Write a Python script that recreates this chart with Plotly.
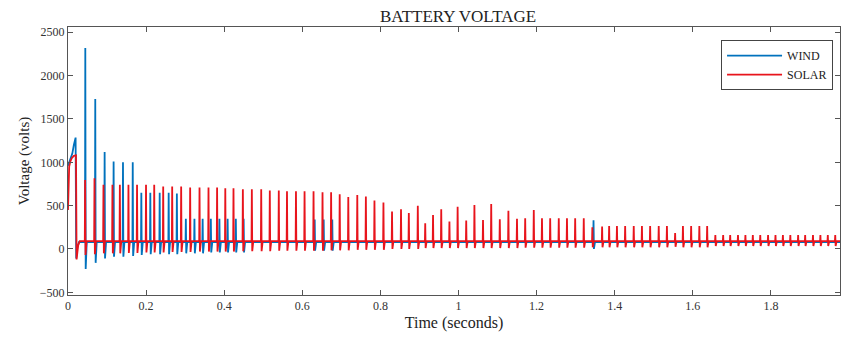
import plotly.graph_objects as go

# ---------------- data ----------------
# start-up transient (time s, volts)
solar_start_t = [0.0, 0.001, 0.003, 0.006, 0.010, 0.015, 0.019, 0.0205, 0.022, 0.026, 0.030]
solar_start_v = [450, 820, 950, 1010, 1050, 1075, 1085, 1080, -120, 40, 90]
wind_start_t = [0.0, 0.003, 0.007, 0.011, 0.015, 0.018, 0.0195, 0.021, 0.024, 0.028]
wind_start_v = [960, 1000, 1040, 1100, 1200, 1270, 1285, -110, 20, 80]

# spike instants, peak values and undershoot values
solar_t = [0.043, 0.067, 0.090, 0.113, 0.132, 0.154, 0.176, 0.199, 0.220,
           0.243, 0.266, 0.289, 0.312, 0.336, 0.359, 0.381, 0.402, 0.423,
           0.447, 0.470, 0.494, 0.516, 0.539, 0.560, 0.583, 0.605,
           0.628, 0.651, 0.673, 0.695, 0.717, 0.740, 0.762, 0.784,
           0.807, 0.829, 0.852, 0.872, 0.895, 0.914, 0.934, 0.955, 0.976,
           0.997, 1.019, 1.040, 1.062, 1.083, 1.105, 1.127, 1.149,
           1.170, 1.192, 1.213, 1.234, 1.256, 1.277, 1.298, 1.320,
           1.342, 1.367, 1.385, 1.405, 1.426, 1.448, 1.469, 1.490,
           1.512, 1.533, 1.554, 1.574, 1.595, 1.616, 1.636,
           1.657, 1.677, 1.695, 1.715, 1.734, 1.753, 1.772, 1.792, 1.811,
           1.830, 1.849, 1.869, 1.887, 1.907, 1.926, 1.945, 1.964]
solar_peak = [795, 815, 740, 740, 740, 740, 740, 740, 740,
              720, 720, 720, 710, 710, 710, 710, 700, 700,
              690, 690, 690, 675, 675, 665, 665, 665,
              665, 655, 655, 630, 600, 623, 604, 560,
              535, 431, 458, 415, 500, 296, 392, 458, 318,
              488, 327, 508, 335, 519, 342, 440, 348,
              354, 450, 354, 354, 354, 354, 354, 354,
              250, 260, 265, 265, 265, 265, 265, 265,
              265, 265, 185, 265, 265, 265, 265,
              160, 160, 160, 160, 160, 160, 160, 160, 160,
              160, 160, 160, 160, 160, 160, 160, 160]
solar_dip = [-70, -60, -50, -50, -50, -45, -45, -40, -40,
             -40, -35, -35, -35, -30, -30, -30, -30, -30,
             -25, -25, -25, -25, -20, -20, -20, -20,
             -20, -20, -15, -15, -15, -10, -10, -10,
             -10, 0, 0, 0, 0, 10, 10, 10, 10,
             10, 10, 10, 10, 10, 10, 10, 10,
             15, 15, 15, 15, 15, 15, 15, 15,
             20, 20, 20, 20, 20, 20, 20, 20,
             20, 20, 25, 20, 20, 20, 20,
             35, 35, 35, 35, 35, 35, 35, 35, 35,
             35, 35, 35, 35, 35, 35, 35, 35]
solar_base = 90

wind_t = [0.0435, 0.069, 0.093, 0.116, 0.140, 0.165, 0.187, 0.210, 0.234, 0.257, 0.278,
          0.301, 0.323, 0.344, 0.365, 0.387, 0.408, 0.429, 0.449,
          0.631, 0.654, 0.676, 1.345]
wind_peak = [2320, 1730, 1120, 1010, 1000, 1000, 650, 650, 650, 650, 640,
             350, 350, 350, 350, 350, 350, 350, 350,
             340, 340, 340, 330]
wind_dip = [-230, -160, -110, -90, -90, -80, -70, -60, -60, -60, -60,
            -50, -50, -50, -40, -40, -40, -40, -40,
            -20, -20, -20, 0]
wind_base = 80

t_end = 1.98

x_ticks = [0, 0.2, 0.4, 0.6, 0.8, 1.0, 1.2, 1.4, 1.6, 1.8]
x_tick_text = ["0", "0.2", "0.4", "0.6", "0.8", "1", "1.2", "1.4", "1.6", "1.8"]
y_ticks = [-500, 0, 500, 1000, 1500, 2000, 2500]


def build(start_t, start_v, ts, peaks, dips, base):
    xs = list(start_t)
    ys = list(start_v)
    for t, p, d in zip(ts, peaks, dips):
        xs += [t, t + 0.0008, t + 0.0018, t + 0.0045]
        ys += [base, p, d, base]
    xs.append(t_end)
    ys.append(base)
    return xs, ys


wx, wy = build(wind_start_t, wind_start_v, wind_t, wind_peak, wind_dip, wind_base)
sx, sy = build(solar_start_t, solar_start_v, solar_t, solar_peak, solar_dip, solar_base)

BLUE = "#0072BD"
RED = "#E8141C"
FONT = "Liberation Serif"

fig = go.Figure()
fig.add_trace(go.Scatter(x=wx, y=wy, mode="lines", name="WIND",
                         line=dict(color=BLUE, width=1.8)))
fig.add_trace(go.Scatter(x=sx, y=sy, mode="lines", name="SOLAR",
                         line=dict(color=RED, width=1.8)))

axis_common = dict(showgrid=False, zeroline=False, showline=True, linecolor="#555555",
                   linewidth=1, mirror="allticks", ticks="inside", ticklen=5,
                   tickcolor="#555555", tickfont=dict(family=FONT, size=12, color="#333333"))

fig.update_layout(
    width=844, height=341,
    margin=dict(l=68, r=4, t=27, b=46),
    paper_bgcolor="white", plot_bgcolor="white",
    font=dict(family=FONT, color="#222222"),
    title=dict(text="BATTERY VOLTAGE", x=0.5427, xanchor="center", y=0.953, yanchor="middle",
               font=dict(family=FONT, size=17, color="#222222")),
    xaxis=dict(range=[0, 1.977], tickvals=x_ticks, ticktext=x_tick_text,
               title=dict(text="Time (seconds)", font=dict(family=FONT, size=16, color="#222222"),
                          standoff=4),
               **axis_common),
    yaxis=dict(range=[-531, 2561], tickvals=y_ticks,
               title=dict(text="Voltage (volts)", font=dict(family=FONT, size=15, color="#222222"),
                          standoff=6),
               **axis_common),
    legend=dict(x=0.991, xanchor="right", y=0.951, yanchor="top",
                bgcolor="white", bordercolor="#444444", borderwidth=1,
                font=dict(family=FONT, size=12, color="#222222"),
                tracegroupgap=0, itemwidth=55),
    showlegend=True,
)

fig.write_html("out.html")
